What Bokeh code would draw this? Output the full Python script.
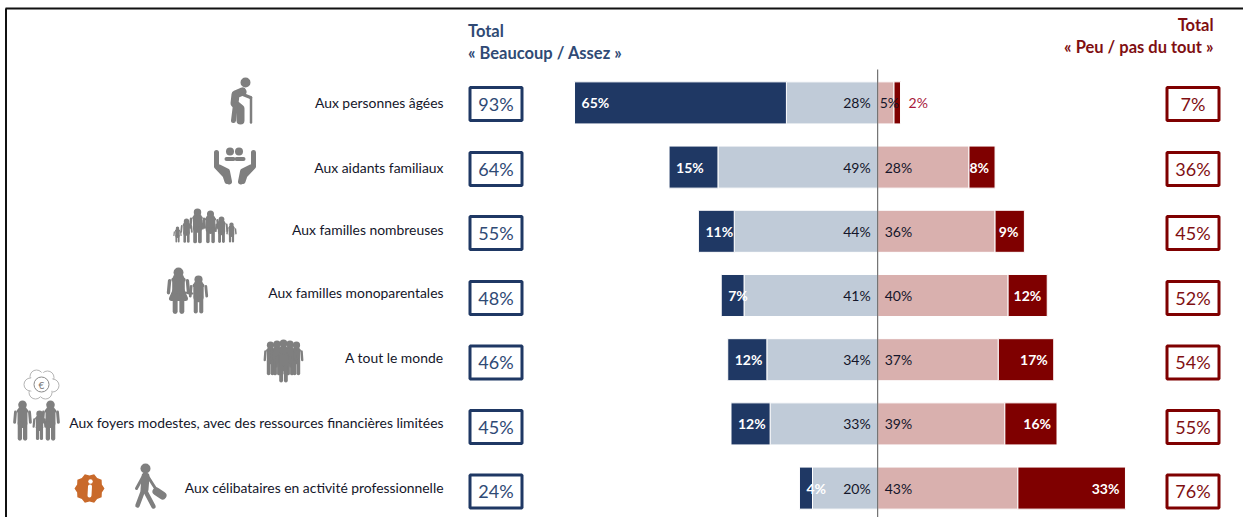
from bokeh.embed import file_html
from bokeh.resources import INLINE
from bokeh.plotting import figure
from bokeh.models import Range1d, ColumnDataSource
from bokeh.core.properties import value
import math

# ---------- data ----------
categories = ["Aux personnes âgées", "Aux aidants familiaux", "Aux familles nombreuses",
              "Aux familles monoparentales", "A tout le monde",
              "Aux foyers modestes, avec des ressources financières limitées",
              "Aux célibataires en activité professionnelle"]
beaucoup = [65, 15, 11, 7, 12, 12, 4]
assez = [28, 49, 44, 41, 34, 33, 20]
peu = [5, 28, 36, 40, 37, 39, 43]
pas_du_tout = [2, 8, 9, 12, 17, 16, 33]
total_plus = [93, 64, 55, 48, 46, 45, 24]
total_moins = [7, 36, 45, 52, 54, 55, 76]

# ---------- layout (page pixels) ----------
W, H = 1243, 517
PX_L, PX_R, PX_T, PX_B = 0, W, 0, H
X0, PX_PER_PCT = 877.2, 3.26
Y0, ROW_STEP = 102.4, 64.2
label_y = [102, 167, 229, 292, 357, 422, 487]
box_y = [103.5, 168.5, 232.5, 297.5, 362, 426.5, 491]
box_text_y = [103, 168, 232, 297, 361.5, 426, 490.5]

NAVY, LIGHT, PINK, RED = "#1f3864", "#c0cbd8", "#d9b0ae", "#7f0000"
NAVY_T, RED_T, INK, GREY = "#2f4a75", "#7f0f12", "#14162a", "#7f7f7f"
FONT = value("Lato")

p = figure(width=W, height=H, output_backend="svg", toolbar_location=None,
           x_range=Range1d((PX_L - X0) / PX_PER_PCT, (PX_R - X0) / PX_PER_PCT),
           y_range=Range1d((PX_B - Y0) / ROW_STEP, (PX_T - Y0) / ROW_STEP),
           min_border=0, min_border_left=0, min_border_right=0, min_border_top=0, min_border_bottom=0,
           outline_line_color=None, background_fill_color="white")
p.axis.visible = False
p.grid.visible = False
p.extra_x_ranges["px"] = Range1d(PX_L, PX_R)
p.extra_y_ranges["px"] = Range1d(PX_B, PX_T)
PXR = dict(x_range_name="px", y_range_name="px")

rows = list(range(len(categories)))

# ---------- bars ----------
left_end = [-(a + b) for a, b in zip(assez, beaucoup)]
right_end = [a + b for a, b in zip(peu, pas_du_tout)]
BAR = 0.655
p.hbar(y=rows, left=[-a for a in assez], right=[0] * 7, height=BAR, fill_color=LIGHT, line_color="white", line_width=1)
p.hbar(y=rows, left=left_end, right=[-a for a in assez], height=BAR, fill_color=NAVY, line_color="white", line_width=1)
p.hbar(y=rows, left=[0] * 7, right=peu, height=BAR, fill_color=PINK, line_color="white", line_width=1)
p.hbar(y=rows, left=peu, right=right_end, height=BAR, fill_color=RED, line_color="white", line_width=1)
p.segment(x0=[0], x1=[0], y0=[(69 - Y0) / ROW_STEP], y1=[(PX_B - Y0) / ROW_STEP], line_color="#555555", line_width=1)


def pct(vals):
    return [f"{v}%" for v in vals]


BL = dict(text_font=FONT, text_baseline="middle", text_font_size="14px")
p.text(x=left_end, y=rows, text=pct(beaucoup), text_color="white", text_font_style="bold",
       text_align="left", x_offset=7, **BL)
p.text(x=[0] * 7, y=rows, text=pct(assez), text_color=INK, text_align="right", x_offset=-7, **BL)
p.text(x=[0] * 7, y=rows, text=pct(peu), text_color=INK, text_align="left",
       x_offset=[2 if v < 10 else 7 for v in peu], **BL)
inside = [i for i in rows if pas_du_tout[i] > 2]
outside = [i for i in rows if pas_du_tout[i] <= 2]
p.text(x=[right_end[i] for i in inside], y=inside, text=pct([pas_du_tout[i] for i in inside]),
       text_color="white", text_font_style="bold", text_align="right", x_offset=-6, **BL)
p.text(x=[right_end[i] for i in outside], y=outside, text=pct([pas_du_tout[i] for i in outside]),
       text_color="#a8183a", text_align="left", x_offset=8, **BL)

# ---------- row labels ----------
p.text(x=[443] * 7, y=label_y, text=categories, text_color=INK, text_align="right",
       text_baseline="middle", text_font=FONT, text_font_size="13.9px", **PXR)

# ---------- totals ----------
p.rect(x=[495.5] * 7, y=box_y, width=[52] * 7, height=[33] * 7, fill_color="white",
       line_color=NAVY, line_width=3, **PXR)
p.rect(x=[1192.5] * 7, y=box_y, width=[52] * 7, height=[33] * 7, fill_color="white",
       line_color=RED, line_width=3, **PXR)
p.text(x=[495.5] * 7, y=box_text_y, text=pct(total_plus), text_color=NAVY_T, text_align="center",
       text_baseline="middle", text_font=FONT, text_font_size="18px", **PXR)
p.text(x=[1192.5] * 7, y=box_text_y, text=pct(total_moins), text_color=RED_T, text_align="center",
       text_baseline="middle", text_font=FONT, text_font_size="18px", **PXR)

# ---------- headers ----------
HD = dict(text_baseline="middle", text_font=FONT, text_font_size="16.5px", text_font_style="bold")
p.text(x=[467.5, 467.5], y=[30, 52], text=["Total", "« Beaucoup / Assez »"], text_color=NAVY_T,
       text_align="left", **HD, **PXR)
p.text(x=[1213, 1213], y=[24, 46], text=["Total", "« Peu / pas du tout »"], text_color=RED_T,
       text_align="right", **HD, **PXR)

# ---------- frame ----------
p.segment(x0=[5, 5.5], y0=[8, 8], x1=[W, 5.5], y1=[8, H], line_color="#111111", line_width=2, **PXR)

# ---------- icons ----------
strokes = {"xs": [], "ys": [], "w": [], "c": []}
heads = {"x": [], "y": [], "s": [], "c": []}


def stroke(pts, w, c=GREY):
    strokes["xs"].append([q[0] for q in pts])
    strokes["ys"].append([q[1] for q in pts])
    strokes["w"].append(w)
    strokes["c"].append(c)


def head(x, y, d, c=GREY):
    heads["x"].append(x)
    heads["y"].append(y)
    heads["s"].append(d)
    heads["c"].append(c)


def person(cx, top, bottom, k=1.0):
    h = bottom - top
    d = h * 0.22
    head(cx, top + d / 2, d)
    sh = top + d + h * 0.05
    hip = top + h * 0.58
    hw = h * 0.15 * k
    stroke([(cx - hw * 0.7, sh), (cx + hw * 0.7, sh)], h * 0.09)
    stroke([(cx, sh), (cx, hip)], hw * 1.7)
    stroke([(cx - hw * 0.45, hip), (cx - hw * 0.45, bottom - 1)], h * 0.11)
    stroke([(cx + hw * 0.45, hip), (cx + hw * 0.45, bottom - 1)], h * 0.11)
    stroke([(cx - hw * 1.2, sh + 1), (cx - hw * 1.35, top + h * 0.56)], h * 0.075)
    stroke([(cx + hw * 1.2, sh + 1), (cx + hw * 1.35, top + h * 0.56)], h * 0.075)


# elderly person
head(245, 82, 10)
stroke([(242, 91), (235, 94), (234, 103), (240, 108), (240, 120)], 8)
stroke([(235, 104), (233, 120)], 5)
stroke([(240, 93), (250, 97)], 3.5)
stroke([(250.5, 97), (250.5, 122)], 2.5)
# caring hands
head(229.5, 151, 8)
head(238.5, 151, 8)
stroke([(226, 158.5), (233, 158.5)], 4)
stroke([(236, 158.5), (243, 158.5)], 4)
for sgn in (-1, 1):
    stroke([(234.5 + sgn * 18.5, 152), (234.5 + sgn * 18.5, 166), (234.5 + sgn * 10, 175), (234.5 + sgn * 8, 181)], 5)
    stroke([(234.5 + sgn * 16, 167), (234.5 + sgn * 8, 171), (234.5 + sgn * 6, 181)], 6)
# large family
for cx, top, k in [(177, 226, 1.1), (186, 218, 1.1), (197, 208, 1.05), (210, 210, 1.2), (221, 216, 1.1), (231, 222, 1.1)]:
    person(cx, top, 242, k)
# single-parent family
person(178, 267, 312, 1.1)
stroke([(178, 282), (171, 298), (185, 298), (178, 282)], 5)
person(198, 275, 312, 1.1)
stroke([(184, 292), (192, 293)], 2)
# crowd
for cx, top in [(270, 341), (296, 341), (283, 339), (276.5, 340), (289.5, 340)]:
    person(cx, top, 374, 0.85)
person(283, 346, 381, 1.0)
# modest household
person(22, 400, 439, 1.0)
person(39, 410, 439, 1.0)
person(50, 400, 439, 1.0)
# commuter
head(145, 468, 10)
stroke([(145, 476), (144, 489)], 8)
stroke([(143, 489), (137, 505)], 4.5)
stroke([(144, 489), (153, 506)], 4.5)
stroke([(142, 477), (136, 488)], 3)
stroke([(148, 477), (155, 488)], 3)
stroke([(156, 491), (162, 495)], 8)
# info badge
badge_pts = [(89 + (15 if i % 2 == 0 else 13) * math.cos(i * math.pi / 10),
              488 + (15 if i % 2 == 0 else 13) * math.sin(i * math.pi / 10)) for i in range(20)]
p.patch(x=[q[0] for q in badge_pts], y=[q[1] for q in badge_pts], fill_color="#c96a2b", line_color=None, **PXR)
stroke([(89.5, 486), (89, 495)], 4, "white")
head(90, 481, 4.5, "white")

src = ColumnDataSource(strokes)
p.multi_line(xs="xs", ys="ys", line_width="w", line_color="c", line_cap="round", line_join="round", source=src, **PXR)
p.scatter(x="x", y="y", size="s", fill_color="c", line_color=None, marker="circle",
          source=ColumnDataSource(heads), **PXR)

# thought bubble with euro sign
bub_x, bub_y = [], []
for cx, cy, r in [(36, 376, 7), (47, 377, 7), (52, 385, 6), (45, 392, 6), (35, 392, 6), (30, 384, 6)]:
    bub_x.append(cx)
    bub_y.append(cy)
p.scatter(x=bub_x, y=bub_y, size=13, fill_color="white", line_color="#b5b5b5", line_width=1, **PXR)
p.scatter(x=[41], y=[384], size=24, fill_color="white", line_color=None, **PXR)
p.scatter(x=[41], y=[384], size=15, fill_color="white", line_color="#8a8a8a", line_width=1, **PXR)
p.text(x=[41], y=[384], text=["€"], text_color="#777777", text_align="center", text_baseline="middle",
       text_font=FONT, text_font_size="10px", **PXR)

open("out.html", "w").write(file_html(p, INLINE))
